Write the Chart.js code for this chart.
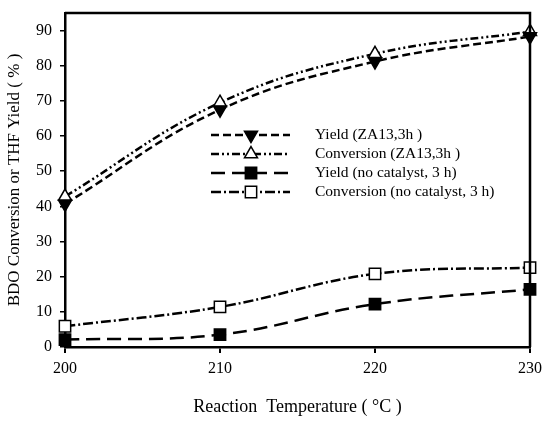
<!DOCTYPE html>
<html>
<head>
<meta charset="utf-8">
<script src="https://cdn.jsdelivr.net/npm/chart.js@4/dist/chart.umd.min.js"></script>
<style>
html,body{margin:0;padding:0;background:#fff;}
#wrap{width:550px;height:422px;position:relative;}
</style>
</head>
<body>
<div id="wrap"><canvas id="c" width="550" height="422"></canvas></div>
<script>
const temperatures = [200, 210, 220, 230];
const yieldZA13 = [40.7, 67.5, 81.2, 88.3];
const convZA13 = [42.8, 69.5, 83.4, 89.7];
const yieldNoCat = [2.1, 3.5, 12.2, 16.4];
const convNoCat = [5.9, 11.4, 20.8, 22.6];
const seriesLabels = ['Yield (ZA13,3h )', 'Conversion (ZA13,3h )', 'Yield (no catalyst, 3 h)', 'Conversion (no catalyst, 3 h)'];
const yTicks = [0, 10, 20, 30, 40, 50, 60, 70, 80, 90];
const xTicks = [200, 210, 220, 230];

function pts(vals){ return temperatures.map((t,i)=>({x:t,y:vals[i]})); }

const SERIF = '"Liberation Serif", "DejaVu Serif", serif';

const datasets = [
  {label: seriesLabels[0], data: pts(yieldZA13), borderDash:[8,4], pointStyle:'triangle', rotation:180, pointBackgroundColor:'#000', radius:7.5},
  {label: seriesLabels[1], data: pts(convZA13), borderDash:[8,3,2,3,2,3], pointStyle:'triangle', rotation:0, pointBackgroundColor:'#fff', radius:7.5},
  {label: seriesLabels[2], data: pts(yieldNoCat), borderDash:[14,7], pointStyle:'rect', rotation:0, pointBackgroundColor:'#000', radius:8},
  {label: seriesLabels[3], data: pts(convNoCat), borderDash:[10,3,2,3], pointStyle:'rect', rotation:0, pointBackgroundColor:'#fff', radius:8}
].map(d => ({
  label: d.label,
  data: d.data,
  borderColor:'#000',
  borderWidth:2.5,
  borderDash:d.borderDash,
  tension:0.4,
  pointStyle:d.pointStyle,
  rotation:d.rotation,
  pointRadius:d.radius,
  pointHoverRadius:d.radius,
  pointBackgroundColor:d.pointBackgroundColor,
  pointBorderColor:'#000',
  pointBorderWidth:1.5,
  fill:false,
  clip:false
}));

function drawMarker(ctx, style, rotation, r, x, y, fill){
  ctx.save();
  ctx.fillStyle = fill; ctx.strokeStyle = '#000'; ctx.lineWidth = 1.5; ctx.setLineDash([]);
  ctx.beginPath();
  if (style === 'triangle') {
    const rad = rotation * Math.PI / 180;
    for (let k=0;k<3;k++){
      const a = rad - Math.PI/2 + k*2*Math.PI/3;
      const px = x + Math.cos(a)*r, py = y + Math.sin(a)*r;
      if (k===0) ctx.moveTo(px,py); else ctx.lineTo(px,py);
    }
    ctx.closePath();
  } else {
    const s = Math.SQRT1_2 * r;
    ctx.rect(x-s, y-s, 2*s, 2*s);
  }
  ctx.fill(); ctx.stroke();
  ctx.restore();
}

const framePlugin = {
  id:'frame',
  afterDraw(chart){
    const {ctx, chartArea:a} = chart;
    ctx.save();
    ctx.strokeStyle = '#000'; ctx.lineWidth = 2.5;
    ctx.beginPath();
    ctx.moveTo(a.left, a.top); ctx.lineTo(a.right, a.top); ctx.lineTo(a.right, a.bottom);
    ctx.stroke();
    ctx.restore();
  }
};

const legendPlugin = {
  id:'customLegend',
  afterDraw(chart){
    const ctx = chart.ctx;
    const x0 = 211, x1 = 290, xm = 251, tx = 315;
    const ys = [135, 154, 173, 192];
    chart.data.datasets.forEach((ds, i) => {
      const y = ys[i];
      ctx.save();
      ctx.strokeStyle = '#000'; ctx.lineWidth = 2.5; ctx.setLineDash(ds.borderDash);
      ctx.beginPath(); ctx.moveTo(x0, y); ctx.lineTo(x1, y); ctx.stroke();
      ctx.restore();
      drawMarker(ctx, ds.pointStyle, ds.rotation, ds.pointRadius, xm, y, ds.pointBackgroundColor);
      ctx.save();
      ctx.fillStyle = '#000'; ctx.font = '15.5px ' + SERIF; ctx.textBaseline = 'middle'; ctx.textAlign='left';
      ctx.fillText(ds.label, tx, y);
      ctx.restore();
    });
  }
};

new Chart(document.getElementById('c'), {
  type:'line',
  data:{datasets},
  options:{
    responsive:false,
    animation:false,
    devicePixelRatio:1,
    layout:{padding:{left:0, right:20, top:13, bottom:0}},
    plugins:{legend:{display:false}, tooltip:{enabled:false}},
    scales:{
      x:{
        type:'linear', min:200, max:230,
        afterBuildTicks(s){ s.ticks = xTicks.map(v=>({value:v})); },
        afterFit(s){ s.height = 75; },
        grid:{display:true, drawOnChartArea:false, drawTicks:true, tickLength:6, color:'#000', lineWidth:2},
        border:{display:true, color:'#000', width:2.5},
        ticks:{color:'#000', font:{family:SERIF, size:16}, padding:6, maxRotation:0},
        title:{display:true, text:'Reaction  Temperature ( °C )', color:'#000', font:{family:SERIF, size:18}, padding:{top:10}}
      },
      y:{
        type:'linear', min:0, max:95,
        afterBuildTicks(s){ s.ticks = yTicks.map(v=>({value:v})); },
        afterFit(s){ s.width = 65; s.paddingTop = 0; s.paddingBottom = 0; },
        grid:{display:true, drawOnChartArea:false, drawTicks:true, tickLength:5, color:'#000', lineWidth:1.5},
        border:{display:true, color:'#000', width:2.5},
        ticks:{color:'#000', font:{family:SERIF, size:16}, padding:8},
        title:{display:true, text:'BDO Conversion or THF Yield ( % )', color:'#000', font:{family:SERIF, size:17}, padding:{bottom:2}}
      }
    }
  },
  plugins:[framePlugin, legendPlugin]
});
</script>
</body>
</html>
